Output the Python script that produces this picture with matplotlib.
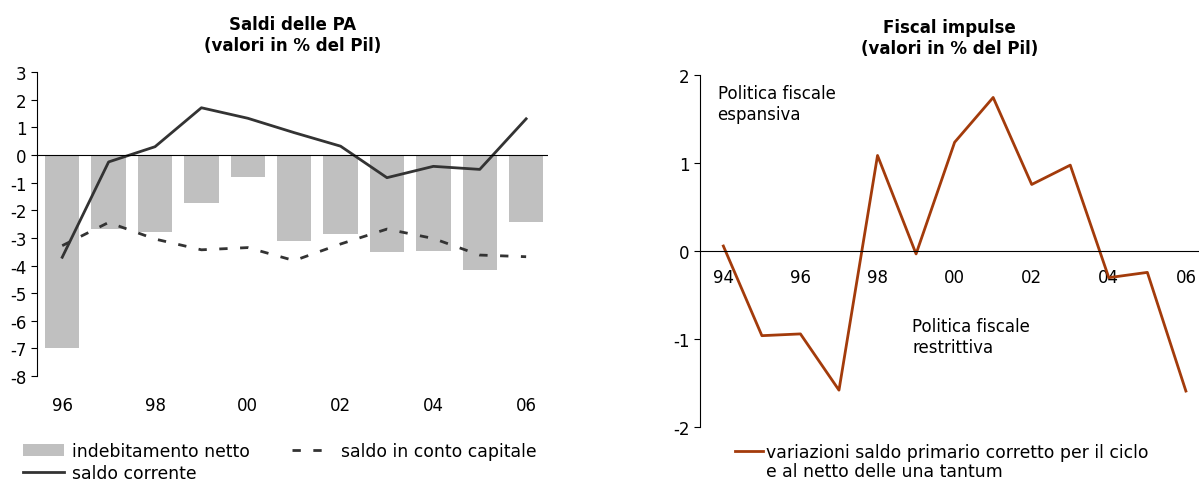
import matplotlib.pyplot as plt
import numpy as np

plt.rcParams['font.family'] = ['DejaVu Sans']
plt.rcParams['axes.unicode_minus'] = False

# left chart data
anni_sx = ['96', '97', '98', '99', '00', '01', '02', '03', '04', '05', '06']
indebitamento = [-6.97, -2.68, -2.80, -1.74, -0.81, -3.10, -2.87, -3.50, -3.46, -4.15, -2.42]
saldo_corrente = [-3.70, -0.25, 0.30, 1.71, 1.33, 0.81, 0.32, -0.82, -0.41, -0.52, 1.31]
saldo_capitale = [-3.28, -2.44, -3.04, -3.43, -3.35, -3.82, -3.22, -2.68, -3.02, -3.62, -3.68]

# right chart data
anni_dx = ['94', '95', '96', '97', '98', '99', '00', '01', '02', '03', '04', '05', '06']
impulso = [0.06, -0.96, -0.94, -1.58, 1.09, -0.03, 1.24, 1.75, 0.76, 0.98, -0.30, -0.24, -1.59]

fig = plt.figure(figsize=(11.99, 4.81), dpi=100)

# ---- left: Saldi delle PA
ax1 = fig.add_axes([0.031, 0.216, 0.426, 0.632])
x1 = np.arange(len(anni_sx))
b = ax1.bar(x1, indebitamento, width=0.74, color='#c0c0c0', label='indebitamento netto')
l1, = ax1.plot(x1, saldo_corrente, color='#333333', lw=2, label='saldo corrente')
l2, = ax1.plot(x1, saldo_capitale, color='#333333', lw=2, ls=(0, (3, 4.5)),
               label='saldo in conto capitale')
ax1.axhline(0, color='black', lw=0.8)
ax1.set_xlim(-0.54, 10.47)
ax1.set_ylim(-8, 3)
ax1.set_yticks(range(-8, 4))
ax1.set_xticks(x1[::2])
ax1.set_xticklabels(anni_sx[::2])
for s in ['top', 'right', 'bottom']:
    ax1.spines[s].set_visible(False)
ax1.tick_params(axis='x', length=0, pad=14, labelsize=12)
ax1.tick_params(axis='y', direction='out', length=4, labelsize=12)
ax1.set_title('Saldi delle PA\n(valori in % del Pil)', fontweight='bold', fontsize=12, pad=16)

fig.legend(handles=[b, l1, l2], loc='upper left', bbox_to_anchor=(0.019, 0.078),
           ncol=2, frameon=False, fontsize=12.4, handlelength=2.4, handletextpad=0.45,
           columnspacing=2.45, labelspacing=0.2, borderaxespad=0, borderpad=0)

# ---- right: Fiscal impulse
ax2 = fig.add_axes([0.584, 0.110, 0.416, 0.731])
x2 = np.arange(len(anni_dx))
l3, = ax2.plot(x2, impulso, color='#a33b0b', lw=2,
               label='variazioni saldo primario corretto per il ciclo')
ax2.set_xlim(-0.6, 12.34)
ax2.set_ylim(-2, 2)
ax2.set_yticks([-2, -1, 0, 1, 2])
ax2.set_xticks(x2[::2])
ax2.set_xticklabels(anni_dx[::2])
for s in ['top', 'right']:
    ax2.spines[s].set_visible(False)
ax2.spines['bottom'].set_position(('data', 0))
ax2.spines['bottom'].set_linewidth(0.8)
ax2.tick_params(axis='x', length=0, pad=12, labelsize=12)
ax2.tick_params(axis='y', direction='out', length=4, labelsize=12)
ax2.set_title('Fiscal impulse\n(valori in % del Pil)', fontweight='bold', fontsize=12, pad=16)
ax2.text(-0.15, 1.9, 'Politica fiscale\nespansiva', fontsize=12, va='top', ha='left')
ax2.text(4.9, -0.75, 'Politica fiscale\nrestrittiva', fontsize=12, va='top', ha='left')

fig.legend(handles=[l3], loc='upper left', bbox_to_anchor=(0.613, 0.076),
           frameon=False, fontsize=12.4, handlelength=1.6, handletextpad=0.2,
           borderaxespad=0, borderpad=0)
fig.text(0.639, 0.019, 'e al netto delle una tantum', fontsize=12.4, va='center', ha='left')

fig.savefig('out.png', dpi=100)
